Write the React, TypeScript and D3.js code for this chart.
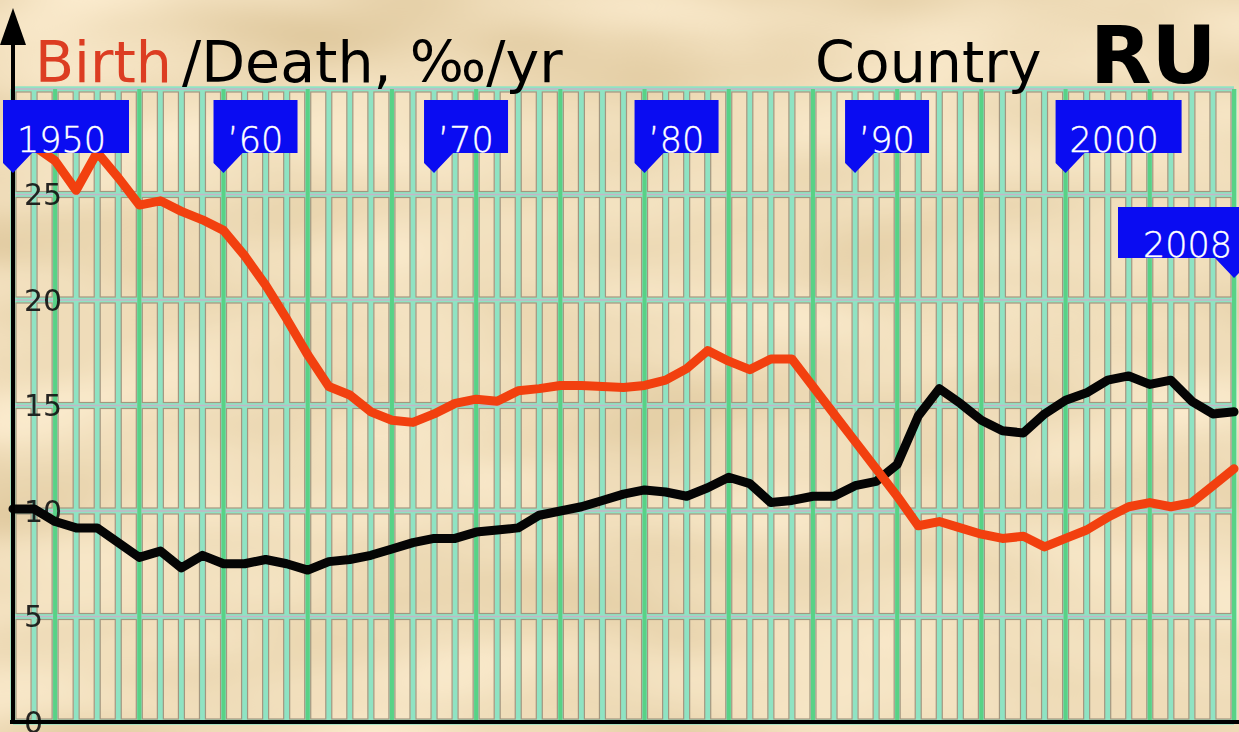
import { useEffect, useRef } from 'react';
import * as d3 from 'd3';

// crude birth / death rate per 1000, Russia
const years = d3.range(1950, 2009);
const birthRate = [
  27.0, 27.3, 26.6, 25.2, 27.0, 25.8, 24.5, 24.7, 24.2, 23.8,
  23.3, 22.1, 20.7, 19.1, 17.4, 15.9, 15.5, 14.7, 14.3, 14.2,
  14.6, 15.1, 15.3, 15.2, 15.7, 15.8, 15.95, 15.95, 15.9, 15.85,
  15.95, 16.2, 16.75, 17.6, 17.1, 16.7, 17.2, 17.2, 15.9, 14.6,
  13.3, 12.0, 10.7, 9.3, 9.5, 9.2, 8.9, 8.7, 8.8, 8.3,
  8.7, 9.1, 9.7, 10.2, 10.4, 10.2, 10.4, 11.2, 12.0,
];
const deathRate = [
  10.1, 10.1, 9.5, 9.2, 9.2, 8.5, 7.8, 8.1, 7.3, 7.9,
  7.5, 7.5, 7.7, 7.5, 7.2, 7.6, 7.7, 7.9, 8.2, 8.5,
  8.7, 8.7, 9.0, 9.1, 9.2, 9.8, 10.0, 10.2, 10.5, 10.8,
  11.0, 10.9, 10.7, 11.1, 11.6, 11.3, 10.4, 10.5, 10.7, 10.7,
  11.2, 11.4, 12.2, 14.5, 15.8, 15.1, 14.3, 13.8, 13.7, 14.6,
  15.25, 15.6, 16.2, 16.4, 16.0, 16.2, 15.2, 14.6, 14.7,
];
const yTicks = [0, 5, 10, 15, 20, 25];
const gridLevels = [0, 5, 10, 15, 20, 25, 30];
const flagYears = [1950, 1960, 1970, 1980, 1990, 2000, 2008];
const flagLabels = ['1950', '’60', '’70', '’80', '’90', '2000', '2008'];

const W = 1239;
const H = 732;
const FONT = '"DejaVu Sans", sans-serif';

export default function App() {
  const ref = useRef<SVGSVGElement | null>(null);

  useEffect(() => {
    const svg = d3.select(ref.current);
    svg.selectAll('*').remove();

    const x = d3.scaleLinear().domain([1950, 2008]).range([13, 1234]);
    const y = d3.scaleLinear().domain([0, 30]).range([722, 89]);

    // parchment background, soft blotches
    const defs = svg.append('defs');
    const filt = defs
      .append('filter')
      .attr('id', 'parch')
      .attr('x', 0)
      .attr('y', 0)
      .attr('width', '100%')
      .attr('height', '100%')
      .attr('color-interpolation-filters', 'sRGB');
    filt
      .append('feTurbulence')
      .attr('type', 'fractalNoise')
      .attr('baseFrequency', '0.004 0.011')
      .attr('numOctaves', 2)
      .attr('seed', 11);
    filt
      .append('feColorMatrix')
      .attr('type', 'matrix')
      .attr('values', '0.16 0 0 0 0.855  0.2 0 0 0 0.76  0.28 0 0 0 0.58  0 0 0 0 1');

    svg.append('rect').attr('width', W).attr('height', H).attr('fill', '#efdbb6');
    svg.append('rect').attr('width', W).attr('height', H).attr('filter', 'url(#parch)');

    const grid = svg.append('g');
    const top = y(30);
    const bottom = y(0);

    // teal bands
    grid
      .selectAll('.vband')
      .data(years)
      .enter()
      .append('line')
      .attr('x1', d => x(d))
      .attr('x2', d => x(d))
      .attr('y1', top)
      .attr('y2', bottom)
      .attr('stroke', '#8fe3c3')
      .attr('stroke-width', 5.5);

    grid
      .selectAll('.hband')
      .data(gridLevels)
      .enter()
      .append('line')
      .attr('x1', x(1950))
      .attr('x2', x(2008))
      .attr('y1', d => y(d))
      .attr('y2', d => y(d))
      .attr('stroke', '#8fe3c3')
      .attr('stroke-width', 5.5);

    grid
      .selectAll('.hline')
      .data(gridLevels)
      .enter()
      .append('line')
      .attr('x1', x(1950))
      .attr('x2', x(2008))
      .attr('y1', d => y(d))
      .attr('y2', d => y(d))
      .attr('stroke', '#c6b4c6')
      .attr('stroke-width', 1.6);

    // leap years in green
    grid
      .selectAll('.leap')
      .data(years.filter(d => d % 4 === 0))
      .enter()
      .append('line')
      .attr('x1', d => x(d))
      .attr('x2', d => x(d))
      .attr('y1', top)
      .attr('y2', bottom)
      .attr('stroke', '#58d286')
      .attr('stroke-width', 4);

    // cells
    const cells: { a: number; b: number; lo: number; hi: number }[] = [];
    for (let i = 0; i < years.length - 1; i++) {
      for (let j = 0; j < gridLevels.length - 1; j++) {
        cells.push({ a: years[i], b: years[i + 1], lo: gridLevels[j], hi: gridLevels[j + 1] });
      }
    }
    grid
      .selectAll('.cell')
      .data(cells)
      .enter()
      .append('rect')
      .attr('x', d => x(d.a) + 3)
      .attr('y', d => y(d.hi) + 3)
      .attr('width', d => x(d.b) - x(d.a) - 6)
      .attr('height', d => y(d.lo) - y(d.hi) - 6)
      .attr('fill', '#f6e6c6')
      .attr('fill-opacity', 0.25)
      .attr('stroke', '#a39680')
      .attr('stroke-width', 1.2);

    // y labels
    svg
      .append('g')
      .selectAll('text')
      .data(yTicks)
      .enter()
      .append('text')
      .attr('x', 24)
      .attr('y', d => y(d))
      .attr('dy', '0.36em')
      .attr('font-family', FONT)
      .attr('font-size', 30)
      .attr('fill', '#111')
      .attr('opacity', 0.9)
      .text(d => d);

    // series
    const line = d3
      .line<number>()
      .x((_, i) => x(years[i]))
      .y(d => y(d));

    svg
      .append('path')
      .attr('d', line(deathRate))
      .attr('fill', 'none')
      .attr('stroke', '#050505')
      .attr('stroke-width', 9)
      .attr('stroke-linejoin', 'round')
      .attr('stroke-linecap', 'round');

    svg
      .append('path')
      .attr('d', line(birthRate))
      .attr('fill', 'none')
      .attr('stroke', '#f2400f')
      .attr('stroke-width', 9)
      .attr('stroke-linejoin', 'round')
      .attr('stroke-linecap', 'round');

    // axes
    svg
      .append('line')
      .attr('x1', 10)
      .attr('x2', W)
      .attr('y1', bottom)
      .attr('y2', bottom)
      .attr('stroke', '#000')
      .attr('stroke-width', 4);
    svg
      .append('line')
      .attr('x1', x(1950))
      .attr('x2', x(1950))
      .attr('y1', bottom + 2)
      .attr('y2', 40)
      .attr('stroke', '#000')
      .attr('stroke-width', 4);
    svg
      .append('polygon')
      .attr('points', `${x(1950)},8 ${x(1950) - 13},45 ${x(1950) + 13},45`)
      .attr('fill', '#000');

    // flags
    const flags = svg
      .append('g')
      .selectAll('g')
      .data(flagYears)
      .enter()
      .append('g');

    flags.each(function (d, i) {
      const g = d3.select(this);
      const tx = x(d);
      const label = flagLabels[i];
      const w = label.length === 4 ? 126 : 84;
      const right = i === flagYears.length - 1;
      const t = right ? 207 : 100;
      const b = right ? 258 : 153;
      const s = right ? -1 : 1;
      g.append('polygon')
        .attr(
          'points',
          [
            [tx - 10 * s, t],
            [tx + (w - 10) * s, t],
            [tx + (w - 10) * s, b],
            [tx + 19 * s, b],
            [tx, b + 20],
            [tx - 10 * s, b + 10],
          ]
            .map(p => p.join(','))
            .join(' ')
        )
        .attr('fill', '#0a0cf2');
      g.append('text')
        .attr('x', right ? tx - 2 : tx + 4)
        .attr('y', b - 1)
        .attr('text-anchor', right ? 'end' : 'start')
        .attr('font-family', FONT)
        .attr('font-weight', 200)
        .attr('font-size', 35)
        .attr('fill', '#ffffff')
        .attr('stroke', '#ffffff')
        .attr('stroke-width', 0.4)
        .text(label);
    });

    // title
    svg
      .append('text')
      .attr('x', 35)
      .attr('y', 82)
      .attr('font-family', FONT)
      .attr('font-size', 57)
      .attr('fill', '#dc3d22')
      .text('Birth');
    svg
      .append('text')
      .attr('x', 182)
      .attr('y', 82)
      .attr('font-family', FONT)
      .attr('font-size', 57)
      .attr('fill', '#000')
      .text('/Death, ‰/yr');
    svg
      .append('text')
      .attr('x', 815)
      .attr('y', 82)
      .attr('font-family', FONT)
      .attr('font-size', 57)
      .attr('fill', '#000')
      .text('Country');
    svg
      .append('text')
      .attr('x', 1090)
      .attr('y', 83)
      .attr('font-family', FONT)
      .attr('font-weight', 'bold')
      .attr('font-size', 80)
      .attr('fill', '#000')
      .text('RU');
  }, []);

  return (
    <svg
      ref={ref}
      width={W}
      height={H}
      style={{ position: 'absolute', left: 0, top: 0, display: 'block' }}
    />
  );
}
